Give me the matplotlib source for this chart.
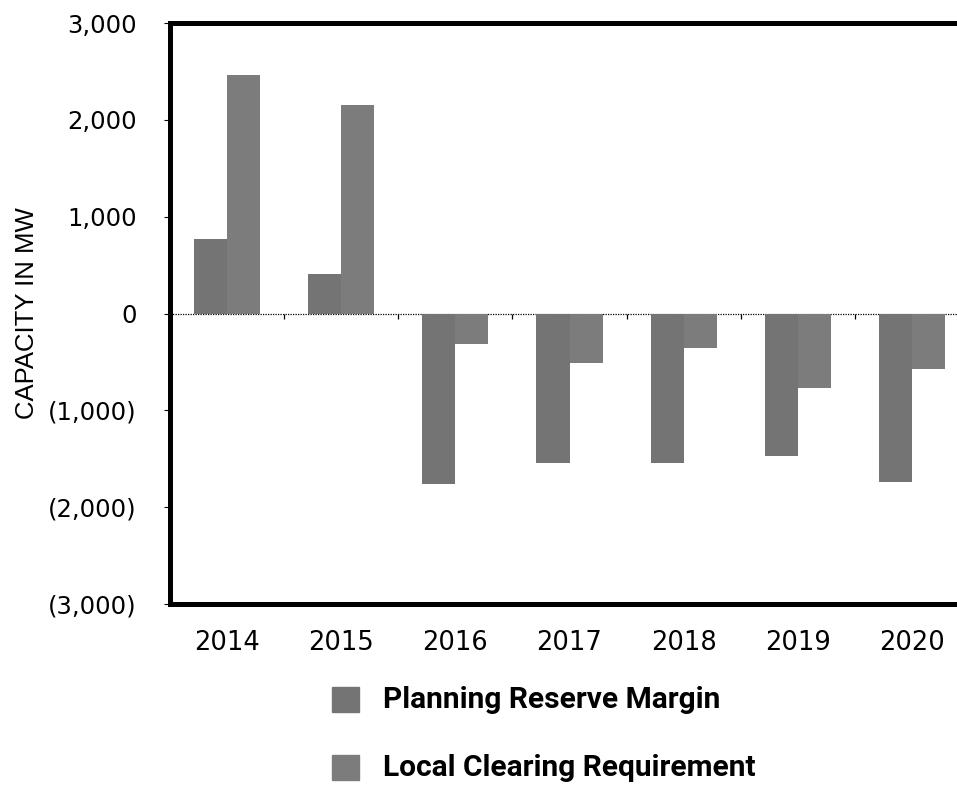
import numpy as np
import matplotlib
matplotlib.use('Agg')
import matplotlib.pyplot as plt
from matplotlib import font_manager
from matplotlib.patches import Rectangle

years = ['2014', '2015', '2016', '2017', '2018', '2019', '2020']
reserve_margin = [765, 413, -1758, -1540, -1540, -1468, -1737]
clearing_req = [2461, 2150, -310, -507, -352, -765, -569]
y_ticks = [3000, 2000, 1000, 0, -1000, -2000, -3000]
y_labels = ['3,000', '2,000', '1,000', '0', '(1,000)', '(2,000)', '(3,000)']
series_names = ['Planning Reserve Margin', 'Local Clearing Requirement']
colors = ['#747474', '#7c7c7c']

names = {f.name for f in font_manager.fontManager.ttflist}
legend_font = 'Liberation Sans Narrow' if 'Liberation Sans Narrow' in names else 'Roboto'

fig = plt.figure(figsize=(9.57, 7.85), dpi=100)
# right edge of the plot runs past the figure, as in the original crop
ax = fig.add_axes([170 / 957, 1 - 604 / 785, 799 / 957, 581 / 785])

x = np.arange(len(years))
w = 0.29
ax.bar(x - w / 2, reserve_margin, w, color=colors[0], label=series_names[0])
ax.bar(x + w / 2, clearing_req, w, color=colors[1], label=series_names[1])

ax.axhline(0, color='black', lw=0.9, ls=(0, (1, 1)), zorder=0)
ax.vlines(x[:-1] + 0.5, 0, -55, color='black', lw=0.9)

ax.set_xlim(-0.5, len(years) - 0.5)
ax.set_ylim(-3000, 3000)
ax.set_yticks(y_ticks)
ax.set_yticklabels(y_labels, fontsize=17.5, family='DejaVu Sans')
ax.set_xticks(x)
ax.set_xticklabels(years, fontsize=18.5, family='DejaVu Sans')
ax.tick_params(axis='x', length=0, pad=19)
ax.tick_params(axis='y', length=4, width=0.8, pad=20)

for side in ['left', 'top', 'bottom']:
    ax.spines[side].set_linewidth(3.6)
ax.spines['right'].set_visible(False)

fig.text(27 / 957, 1 - 313 / 785, 'CAPACITY IN MW', rotation=90, ha='center', va='center',
         fontsize=18.5, family='Liberation Sans')

# legend below the plot
rows_y = [700, 768]
for name, col, yy in zip(series_names, colors, rows_y):
    fig.add_artist(Rectangle((332 / 957, 1 - (yy + 12) / 785), 27 / 957, 25 / 785,
                             transform=fig.transFigure, color=col))
    fig.text(383 / 957, 1 - yy / 785, name, ha='left', va='center', fontsize=21.5,
             fontweight='bold', family=[legend_font, 'DejaVu Sans'])

fig.savefig('out.png', dpi=100)
